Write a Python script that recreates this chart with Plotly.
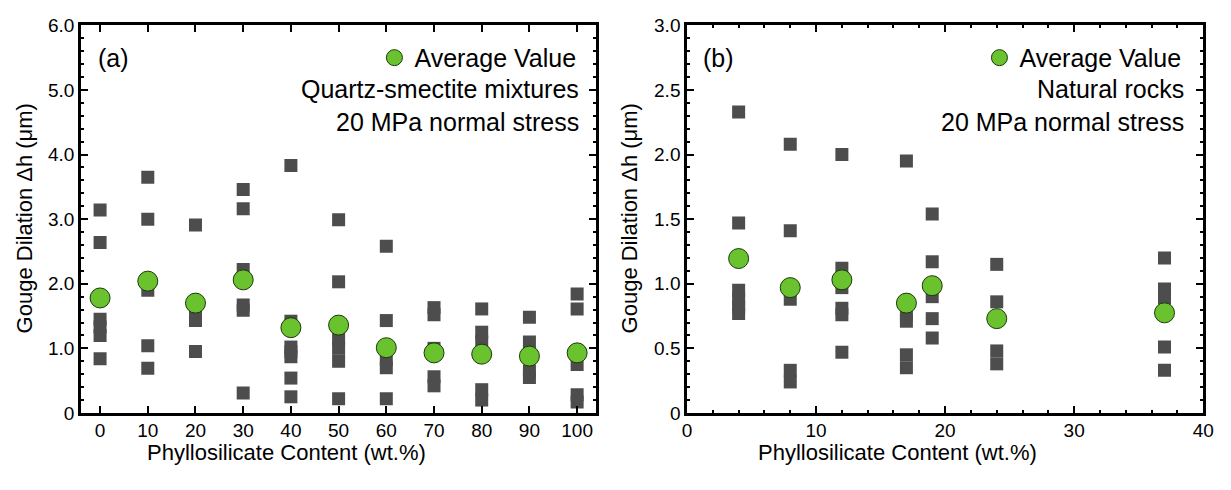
import plotly.graph_objects as go

W, H = 1231, 490

# ---------------- data ----------------
# Panel (a): quartz-smectite mixtures
a_x = [0]*6 + [10]*5 + [20]*4 + [30]*6 + [40]*7 + [50]*6 + [60]*6 + [70]*5 + [80]*5 + [90]*5 + [100]*5
a_y = [3.14, 2.64, 1.45, 1.33, 1.20, 0.84,
       3.65, 3.00, 1.90, 1.04, 0.69,
       2.91, 1.54, 1.43, 0.95,
       3.46, 3.16, 2.22, 1.67, 1.59, 0.31,
       3.83, 1.42, 1.02, 0.95, 0.87, 0.54, 0.25,
       2.99, 2.03, 1.15, 1.00, 0.80, 0.22,
       2.58, 1.43, 1.00, 0.83, 0.70, 0.22,
       1.63, 1.52, 1.00, 0.56, 0.42,
       1.61, 1.25, 1.10, 0.36, 0.20,
       1.48, 1.10, 0.90, 0.65, 0.55,
       1.84, 1.61, 0.75, 0.28, 0.17]
a_avg_x = [0, 10, 20, 30, 40, 50, 60, 70, 80, 90, 100]
a_avg_y = [1.78, 2.04, 1.70, 2.06, 1.32, 1.36, 1.01, 0.93, 0.91, 0.88, 0.93]

# Panel (b): natural rocks
b_x = [4]*6 + [8]*5 + [12]*6 + [17]*5 + [19]*5 + [24]*4 + [37]*5
b_y = [2.33, 1.47, 0.95, 0.88, 0.82, 0.77,
       2.08, 1.41, 0.88, 0.33, 0.24,
       2.00, 1.12, 0.97, 0.81, 0.76, 0.47,
       1.95, 0.76, 0.71, 0.45, 0.35,
       1.54, 1.17, 0.90, 0.73, 0.58,
       1.15, 0.86, 0.48, 0.38,
       1.20, 0.96, 0.89, 0.51, 0.33]
b_avg_x = [4, 8, 12, 17, 19, 24, 37]
b_avg_y = [1.195, 0.97, 1.03, 0.85, 0.985, 0.73, 0.775]

a_yticks = [0, 1, 2, 3, 4, 5, 6]
a_yticktext = ["0", "1.0", "2.0", "3.0", "4.0", "5.0", "6.0"]
a_xticks = [0, 10, 20, 30, 40, 50, 60, 70, 80, 90, 100]
b_yticks = [0, 0.5, 1.0, 1.5, 2.0, 2.5, 3.0]
b_yticktext = ["0", "0.5", "1.0", "1.5", "2.0", "2.5", "3.0"]
b_xticks = [0, 10, 20, 30, 40]

# ---------------- style ----------------
FONT = "Liberation Sans, Arial, sans-serif"
SQ = "#4d4d4d"
GREEN = "#6ac22f"

def px_x(p):
    return p / W

def px_y(p):
    return 1 - p / H

fig = go.Figure()

fig.add_trace(go.Scatter(x=a_x, y=a_y, mode="markers", xaxis="x", yaxis="y",
                         marker=dict(symbol="square", size=13, color=SQ), showlegend=False))
fig.add_trace(go.Scatter(x=a_avg_x, y=a_avg_y, mode="markers", xaxis="x", yaxis="y",
                         name="Average Value", legend="legend",
                         marker=dict(symbol="circle", size=20, color=GREEN,
                                     line=dict(color="#1a3a0a", width=1))))
fig.add_trace(go.Scatter(x=b_x, y=b_y, mode="markers", xaxis="x2", yaxis="y2",
                         marker=dict(symbol="square", size=13, color=SQ), showlegend=False))
fig.add_trace(go.Scatter(x=b_avg_x, y=b_avg_y, mode="markers", xaxis="x2", yaxis="y2",
                         name="Average Value", legend="legend2",
                         marker=dict(symbol="circle", size=20, color=GREEN,
                                     line=dict(color="#1a3a0a", width=1))))

common = dict(showline=True, linecolor="black", linewidth=2.5, mirror="ticks",
              ticks="inside", ticklen=7, tickwidth=2, tickcolor="black",
              showgrid=False, zeroline=False,
              tickfont=dict(family=FONT, size=19, color="black"))

ydom = [px_y(421), px_y(16)]

fig.update_layout(
    width=W, height=H,
    margin=dict(l=0, r=0, t=0, b=0),
    paper_bgcolor="white", plot_bgcolor="white",
    font=dict(family=FONT, color="black"),
    xaxis=dict(domain=[px_x(77), px_x(599)], range=[-4, 104], tickmode="array",
               tickvals=a_xticks, anchor="y", ticklabelstandoff=-2, **common),
    yaxis=dict(domain=ydom, range=[0, 6], tickmode="array", tickvals=a_yticks,
               ticktext=a_yticktext, anchor="x",
               minor=dict(dtick=0.2, tick0=0, ticks="inside", ticklen=3, tickwidth=1.5,
                          tickcolor="black"),
               **common),
    xaxis2=dict(domain=[px_x(691), px_x(1214)], range=[0, 40], tickmode="array",
                tickvals=b_xticks, anchor="y2", ticklabelstandoff=-2,
                minor=dict(dtick=2, tick0=0, ticks="inside", ticklen=3, tickwidth=1.5,
                           tickcolor="black"),
                **common),
    yaxis2=dict(domain=ydom, range=[0, 3], tickmode="array", tickvals=b_yticks,
                ticktext=b_yticktext, anchor="x2",
                minor=dict(dtick=0.1, tick0=0, ticks="inside", ticklen=3, tickwidth=1.5,
                           tickcolor="black"),
                **common),
    legend=dict(x=px_x(584), y=px_y(26), xanchor="right", yanchor="top",
                bgcolor="rgba(0,0,0,0)", borderwidth=0,
                font=dict(family=FONT, size=25, color="black"), itemwidth=30),
    legend2=dict(x=px_x(1197), y=px_y(26), xanchor="right", yanchor="top",
                 bgcolor="rgba(0,0,0,0)", borderwidth=0,
                 font=dict(family=FONT, size=25, color="black"), itemwidth=30),
)

ann_font = dict(family=FONT, size=25, color="black")
title_font = dict(family=FONT, size=22, color="black")
annots = [
    dict(text="(a)", x=px_x(92), y=px_y(50), xanchor="left", yanchor="middle", font=ann_font),
    dict(text="(b)", x=px_x(705), y=px_y(50), xanchor="left", yanchor="middle", font=ann_font),
    dict(text="Quartz-smectite mixtures", x=px_x(584), y=px_y(83), xanchor="right",
         yanchor="middle", font=ann_font),
    dict(text="20 MPa normal stress", x=px_x(584), y=px_y(117), xanchor="right",
         yanchor="middle", font=ann_font),
    dict(text="Natural rocks", x=px_x(1197), y=px_y(83), xanchor="right",
         yanchor="middle", font=ann_font),
    dict(text="20 MPa normal stress", x=px_x(1197), y=px_y(117), xanchor="right",
         yanchor="middle", font=ann_font),
    dict(text="Phyllosilicate Content (wt.%)", x=px_x(285), y=px_y(462), xanchor="center",
         yanchor="middle", font=title_font),
    dict(text="Phyllosilicate Content (wt.%)", x=px_x(904), y=px_y(462), xanchor="center",
         yanchor="middle", font=title_font),
    dict(text="Gouge Dilation Δh (μm)", x=px_x(20), y=px_y(218), xanchor="center",
         yanchor="middle", textangle=-90, font=title_font),
    dict(text="Gouge Dilation Δh (μm)", x=px_x(633), y=px_y(218), xanchor="center",
         yanchor="middle", textangle=-90, font=title_font),
]
for a in annots:
    a.update(xref="paper", yref="paper", showarrow=False)
fig.update_layout(annotations=annots)

fig.write_html("out.html",
               post_script="document.body.style.margin='0px';document.body.style.overflow='hidden';")
